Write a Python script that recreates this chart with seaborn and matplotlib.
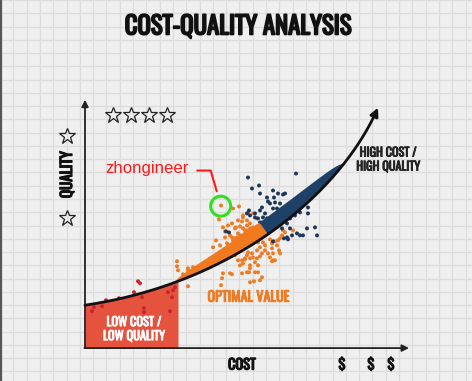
import numpy as np
import pandas as pd
import matplotlib
matplotlib.use("Agg")
import matplotlib.pyplot as plt
import matplotlib.patheffects as pe
from matplotlib import font_manager as fm
import seaborn as sns

# ---------------- data (cost index, quality index) ----------------
red_cost = [7, 9, 17, 21, 34, 49, 53, 55, 57, 59, 59, 83, 85, 88, 90, 87]
red_quality = [37, 41, 42, 48, 50, 56, 67, 65, 51, 40, 36, 56, 37, 58, 61, 51]

orange_cost = [92, 92, 93, 103, 108, 103, 128, 131, 135, 142, 148, 152, 155, 150, 153, 160,
               165, 163, 172, 138, 147, 137, 136, 157, 165, 173, 175, 169, 164, 136, 148, 154,
               134, 147, 153, 157, 151, 155, 158, 162, 165, 168, 153, 157, 160, 163, 167, 170,
               172, 147, 150, 145, 140, 150, 162, 172, 177, 158, 143, 138, 140, 162, 208, 203,
               198, 195, 190, 178, 175, 180, 187, 192, 195, 185, 168, 173, 165, 177, 170, 162,
               165, 155, 157, 145, 157, 173, 180, 185, 187, 190, 193, 194, 188, 177, 172, 167,
               162, 175, 188, 170, 160, 158, 163, 168, 158, 172, 160, 165, 200, 197, 183, 187,
               98, 103]
orange_quality = [87, 82, 78, 80, 81, 62, 101, 108, 103, 105, 108, 111, 113, 93, 88, 90,
                  90, 96, 90, 75, 74, 70, 63, 75, 80, 76, 68, 67, 76, 143, 140, 142,
                  129, 125, 128, 127, 121, 122, 120, 123, 125, 121, 115, 113, 115, 116, 115, 118,
                  113, 111, 110, 113, 117, 120, 128, 130, 126, 133, 123, 121, 111, 118, 118, 110,
                  118, 95, 88, 106, 101, 98, 100, 103, 110, 91, 91, 83, 83, 71, 76, 76,
                  66, 83, 88, 75, 108, 106, 103, 109, 105, 107, 108, 98, 95, 95, 98, 95,
                  93, 92, 88, 86, 89, 85, 136, 135, 131, 122, 118, 120, 116, 113, 95, 87,
                  74, 78]

navy_cost = [211, 167, 174, 163, 175, 189, 193, 198, 183, 190, 195, 202, 188, 164, 170, 175,
             180, 178, 182, 187, 173, 175, 180, 223, 223, 230, 212, 218, 222, 232, 202, 207,
             162, 165, 170, 144, 141, 188, 200, 182, 185, 177, 192, 202, 205, 210, 215, 205,
             202, 197, 205, 199, 203, 215, 188]
navy_quality = [175, 160, 163, 171, 155, 151, 155, 154, 147, 146, 145, 143, 140, 138, 135, 138,
                135, 131, 130, 131, 130, 126, 126, 141, 135, 121, 115, 113, 120, 113, 111, 113,
                135, 133, 131, 116, 117, 158, 155, 151, 145, 141, 140, 136, 143, 133, 136, 130,
                125, 120, 120, 110, 109, 113, 107]

segments = ["Low cost / low quality", "Optimal value", "High cost / high quality"]

# frontier (Bezier control points, cost / quality)
frontier_cost = [0, 155, 258, 293]
frontier_quality = [43, 66, 160, 241]

# ---------------- fonts ----------------
avail = {f.name for f in fm.fontManager.ttflist}
COND, STRETCH = None, 'normal'
for cand in ['Oswald', 'Bebas Neue', 'Roboto Condensed', 'Liberation Sans Narrow',
             'Open Sans Condensed', 'Arial Narrow', 'DejaVu Sans Condensed']:
    if cand in avail:
        COND = cand
        break
if COND is None:
    if any(f.name == 'DejaVu Sans' and str(f.stretch) in ('condensed', '500', 'semi-condensed')
           for f in fm.fontManager.ttflist):
        COND, STRETCH = 'DejaVu Sans', 'condensed'
    elif 'Roboto' in avail:
        COND = 'Roboto'
    else:
        COND = 'DejaVu Sans'

# ---------------- style ----------------
sns.set_theme(style="whitegrid")
plt.rcParams['font.family'] = [COND, 'DejaVu Sans']

BG = '#efefef'
fig = plt.figure(figsize=(4.72, 3.81), dpi=100)
fig.patch.set_facecolor(BG)
ax = fig.add_axes([0, 0, 1, 1])
ax.set_facecolor(BG)
ax.set_xlim(-85, 387)
ax.set_ylim(-33, 348)
ax.set_xticks(np.arange(0, 473, 13.3) - 85)
ax.set_yticks(349 - np.arange(0, 382, 13.3))
ax.tick_params(length=0, labelbottom=False, labelleft=False)
ax.grid(True, color='#dcdcdc', lw=0.9)
for s in ax.spines.values():
    s.set_visible(False)
ax.axvline(-84.4, color='#555555', lw=1.6)

# ---------------- frontier curve geometry ----------------
P = np.array(list(zip(frontier_cost, frontier_quality)), dtype=float)
t = np.linspace(0, 1, 500)[:, None]
B = ((1 - t) ** 3) * P[0] + 3 * ((1 - t) ** 2) * t * P[1] + 3 * (1 - t) * t ** 2 * P[2] + t ** 3 * P[3]
dB = 3 * (1 - t) ** 2 * (P[1] - P[0]) + 6 * (1 - t) * t * (P[2] - P[1]) + 3 * t ** 2 * (P[3] - P[2])
nrm = np.column_stack([-dB[:, 1], dB[:, 0]])
nrm /= np.linalg.norm(nrm, axis=1)[:, None]

# red low cost area
x_cut = 93
m = B[:, 0] <= x_cut
xs = np.append(B[m, 0], x_cut)
ys = np.append(B[m, 1], np.interp(x_cut, B[:, 0], B[:, 1]))
ax.fill_between(xs, 0, ys, color='#e5533e', lw=0, zorder=2)

# optimal / premium band
ta, tb, tsplit = 0.21, 0.77, 0.47
tt = t[:, 0]
w = np.zeros_like(tt)
inb = (tt >= ta) & (tt <= tb)
w[inb] = 14.5 * np.sin(np.pi * (tt[inb] - ta) / (tb - ta)) ** 0.55
upper = B + nrm * w[:, None]
for lo, hi, col in [(ta, tsplit + 0.002, '#f27a1e'), (tsplit, tb, '#1f4168')]:
    mm = (tt >= lo) & (tt <= hi)
    poly = np.vstack([B[mm], upper[mm][::-1]])
    ax.fill(poly[:, 0], poly[:, 1], color=col, lw=0, zorder=4)

# scatter points
df = pd.DataFrame({
    'cost': red_cost + orange_cost + navy_cost,
    'quality': red_quality + orange_quality + navy_quality,
    'segment': [segments[0]] * len(red_cost) + [segments[1]] * len(orange_cost) + [segments[2]] * len(navy_cost),
})
sns.scatterplot(data=df, x='cost', y='quality', hue='segment',
                palette={segments[0]: '#c8252b', segments[1]: '#f07a20', segments[2]: '#1c355a'},
                s=8, linewidth=0, legend=False, ax=ax, zorder=3)
ax.set_xlabel('')
ax.set_ylabel('')

# frontier line and arrow
ax.plot(B[:-6, 0], B[:-6, 1], color='#111111', lw=2, zorder=5, solid_capstyle='round')
ax.annotate('', xy=tuple(B[-1]), xytext=tuple(B[-12]),
            arrowprops=dict(arrowstyle='-|>', color='#111111', lw=2, mutation_scale=12,
                            shrinkA=0, shrinkB=0), zorder=6)

# axes arrows
ax.annotate('', xy=(0, 249), xytext=(0, 0),
            arrowprops=dict(arrowstyle='-|>', color='#222222', lw=1.3, mutation_scale=10,
                            shrinkA=0, shrinkB=0))
ax.annotate('', xy=(324, 0), xytext=(-0.6, 0),
            arrowprops=dict(arrowstyle='-|>', color='#222222', lw=1.3, mutation_scale=10,
                            shrinkA=0, shrinkB=0))

# stars
ax.plot([28, 46, 64, 82], [234] * 4, ls='none', marker='*', ms=12, mfc='none', mec='#222222', mew=0.9, clip_on=False)
ax.plot([-18, -18], [213, 130], ls='none', marker='*', ms=12, mfc='none', mec='#222222', mew=0.9, clip_on=False)

# texts
def heavy(color, lw):
    return [pe.withStroke(linewidth=lw, foreground=color)]

bold = dict(fontweight='bold', ha='center', va='center', fontstretch=STRETCH)
texts = []
texts.append((ax.text(153, 322.5, 'COST-QUALITY ANALYSIS', fontsize=18, color='#111111',
                      path_effects=heavy('#111111', 1.3), **bold), 227, 'w'))
texts.append((ax.text(-17.5, 174, 'QUALITY', fontsize=11, rotation=90, color='#111111',
                      path_effects=heavy('#111111', 0.9), **bold), 47, 'h'))
texts.append((ax.text(157, -17, 'COST', fontsize=11, color='#111111',
                      path_effects=heavy('#111111', 0.9), **bold), 28, 'w'))
for xd in [257, 286, 306]:
    texts.append((ax.text(xd, -17, '$', fontsize=12, color='#111111',
                          path_effects=heavy('#111111', 0.9), **bold), 7, 'w'))
texts.append((ax.text(49, 19, 'LOW COST /\nLOW QUALITY', fontsize=9.5, color='white', linespacing=1.2,
                      zorder=6, path_effects=heavy('white', 0.6), **bold), 62, 'w'))
texts.append((ax.text(163.5, 51, 'OPTIMAL VALUE', fontsize=11, color='#f07a20',
                      path_effects=heavy('#f07a20', 0.7), **bold), 82, 'w'))
texts.append((ax.text(303, 189, 'HIGH COST /\nHIGH QUALITY', fontsize=9.5, color='#222222', linespacing=1.2,
                      path_effects=heavy('#222222', 0.6), **bold), 64, 'w'))

# annotation
zt = ax.text(20, 180, 'zhongineer', fontsize=11.5, color='#ff1a1a', ha='left', va='center',
             family=['Liberation Sans', 'DejaVu Sans'])
texts.append((zt, 83, 'w'))
ax.plot([112.3, 125.7, 131.7], [178, 178, 157.3], color='#ff1a1a', lw=1.5, zorder=6)
circ = plt.Circle((135.7, 142.3), 10, fill=False, ec='#33dd22', lw=2.2, zorder=7)
ax.add_patch(circ)

# fit text sizes to the reference extents
fig.canvas.draw()
r = fig.canvas.get_renderer()
for txt, target, dim in texts:
    bb = txt.get_window_extent(r)
    cur = bb.width if dim == 'w' else bb.height
    if cur > 0:
        txt.set_fontsize(txt.get_fontsize() * target / cur)

fig.savefig('out.png', dpi=100, facecolor=BG)
